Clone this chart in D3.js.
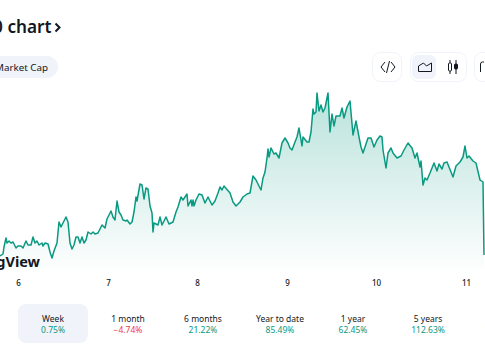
<!DOCTYPE html>
<html><head><meta charset="utf-8">
<script src="https://cdn.jsdelivr.net/npm/d3@7"></script>
<style>
html,body{margin:0;padding:0;background:#fff;overflow:hidden}
svg{display:block}
text{font-family:"Noto Sans",sans-serif}
</style></head><body>
<svg id="c" width="485" height="360"></svg>
<script>
const bars=[0,3,4,6,7,9,11,13,16,18,21,23,26,28,31,33,35,37,39,42,43,45,48,50,52,54,57,59,61,63,66,68,70,72,74,76,78,80,82,84,86,88,91,93,
95,98,102,105,107,111,113,115,117,119,121,123,126,127,130,132,134,136,137,140,142,144,146,148,150,152,153,154,158,160,162,166,169,173,176,178,181,183,187,188,191,192,
193,194,196,199,202,205,208,212,215,218,220,222,224,230,233,236,240,243,247,250,253,256,261,263,265,267,268,269,271,274,276,279,282,
285,288,290,292,295,297,299,302,303,307,309,311,313,314,316,317,319,321,323,325,328,330,332,334,336,340,342,344,347,350,353,356,359,361,363,365,368,371,374,377,
380,382,383,386,388,391,393,397,401,404,408,412,415,417,420,421,423,425,427,430,434,437,439,442,444,447,453,456,460,463,465,467,469,473,476,480,483,484];
const prices=[14,16,23,32,27,29,27,28,22,24,24,22,29,25,25,33,27,29,25,27,24,27,26,18,12,19,27,48,43,47,53,48,27,21,25,33,33,27,33,27,30,38,36,38,
36,37,45,42,51,59,53,50,69,58,55,50,49,50,46,48,58,73,69,86,85,71,82,81,64,57,38,47,45,53,45,53,46,48,58,63,73,70,76,64,70,64,
70,64,70,76,75,67,73,65,69,77,83,80,84,77,68,64,68,73,76,77,94,90,80,92,98,112,121,113,122,116,117,112,127,
132,127,122,120,128,133,142,124,133,128,128,138,161,156,158,177,159,165,158,162,177,138,156,144,154,154,162,152,163,169,135,149,133,123,117,123,132,132,123,130,
134,133,120,102,117,122,117,112,114,120,127,122,112,117,103,109,85,92,90,97,107,99,106,101,107,108,93,104,108,113,124,112,114,109,107,90,88,15];
const dayTicks=[18,108,197,287,376,466];
const dayLabels=["6","7","8","9","10","11"];
const periods=["Week","1 month","6 months","Year to date","1 year","5 years","All time"];
const changes=["0.75%","\u22124.74%","21.22%","85.49%","62.45%","112.63%","1,120.63%"];
const periodCentres=[53,128,203,280,353,428,505];

const svg=d3.select("#c");
const x=d3.scaleLinear().domain([0,485]).range([0,485]);
const y=d3.scaleLinear().domain([0,270]).range([270,0]);
const pts=bars.map((b,i)=>[b,prices[i]]);

const defs=svg.append("defs");
const g=defs.append("linearGradient").attr("id","f").attr("gradientUnits","userSpaceOnUse")
 .attr("x1",0).attr("x2",0).attr("y1",94).attr("y2",275);
g.append("stop").attr("offset",0).attr("stop-color","#089981").attr("stop-opacity",.28);
g.append("stop").attr("offset",1).attr("stop-color","#089981").attr("stop-opacity",0);

// header
svg.append("text").attr("x",51.5).attr("y",33).attr("text-anchor","end")
 .attr("font-size",17.2).attr("font-weight",600).attr("fill","#131722").text("500 chart");
svg.append("path").attr("d","M55.5 23.5l4 4-4 4").attr("fill","none").attr("stroke","#131722").attr("stroke-width",2);
svg.append("rect").attr("x",-20).attr("y",56).attr("width",78).attr("height",22).attr("rx",11).attr("fill","#f0f3fa");
svg.append("text").attr("x",48).attr("y",71).attr("text-anchor","end").attr("font-size",9.8).attr("fill","#131722").text("Market Cap");

// toolbar
const box=(a,w)=>svg.append("rect").attr("x",a).attr("y",52.5).attr("width",w).attr("height",29).attr("rx",8)
 .attr("fill","#fff").attr("stroke","#f0f3fa");
box(372.5,29);box(410.5,56);box(474.5,30);
svg.append("rect").attr("x",412).attr("y",55).attr("width",24).attr("height",24).attr("rx",6).attr("fill","#f0f3fa");
const ic="#131722";
const stroke=(d,w=1)=>svg.append("path").attr("d",d).attr("fill","none").attr("stroke",ic).attr("stroke-width",w);
stroke("M385 62l-4 5 4 5M391 62l4 5-4 5M389.5 61l-3 12");
stroke("M418.5 71.5V66l5-3 3 3 5-3v8.5z");
stroke("M450 60v14M456 60v14");
svg.append("rect").attr("x",448.5).attr("y",63).attr("width",3).attr("height",8).attr("rx",1).attr("fill","#fff").attr("stroke",ic);
svg.append("rect").attr("x",454.5).attr("y",64).attr("width",3).attr("height",5).attr("rx",1).attr("fill",ic).attr("stroke",ic);
stroke("M484 62h-1.5a2 2 0 0 0-2 2v8");

// chart
svg.append("path").datum(pts).attr("fill","url(#f)")
 .attr("d",d3.area().x(d=>x(d[0])).y0(y(0)+10).y1(d=>y(d[1])));
svg.append("path").datum(pts).attr("fill","none").attr("stroke","#089981").attr("stroke-width",1.5)
 .attr("stroke-linejoin","round")
 .attr("d",d3.line().x(d=>x(d[0])).y(d=>y(d[1])));
svg.append("text").attr("x",40).attr("y",267).attr("text-anchor","end").attr("font-size",14.5).attr("font-weight",700).attr("fill","#131722").text("TradingView");

// axis
const ax=svg.append("g").attr("transform","translate(0,276)")
 .call(d3.axisBottom(x).tickValues(dayTicks).tickFormat((d,i)=>dayLabels[i]).tickSize(0).tickPadding(4));
ax.select(".domain").remove();
ax.selectAll("text").attr("font-size",8).attr("font-weight",500).attr("fill","#131722").style("font-family",'"Noto Sans",sans-serif');

// period tabs
svg.append("rect").attr("x",18).attr("y",304).attr("width",70).attr("height",39).attr("rx",8).attr("fill","#f0f3fa");
periods.forEach((p,i)=>{
 svg.append("text").attr("x",periodCentres[i]).attr("y",321.5).attr("text-anchor","middle").attr("font-size",8.5).attr("fill","#131722").text(p);
 svg.append("text").attr("x",periodCentres[i]).attr("y",332.5).attr("text-anchor","middle").attr("font-size",8.5)
  .attr("fill",changes[i].startsWith("\u2212")?"#f23645":"#089981").text(changes[i]);
});
</script></body></html>
